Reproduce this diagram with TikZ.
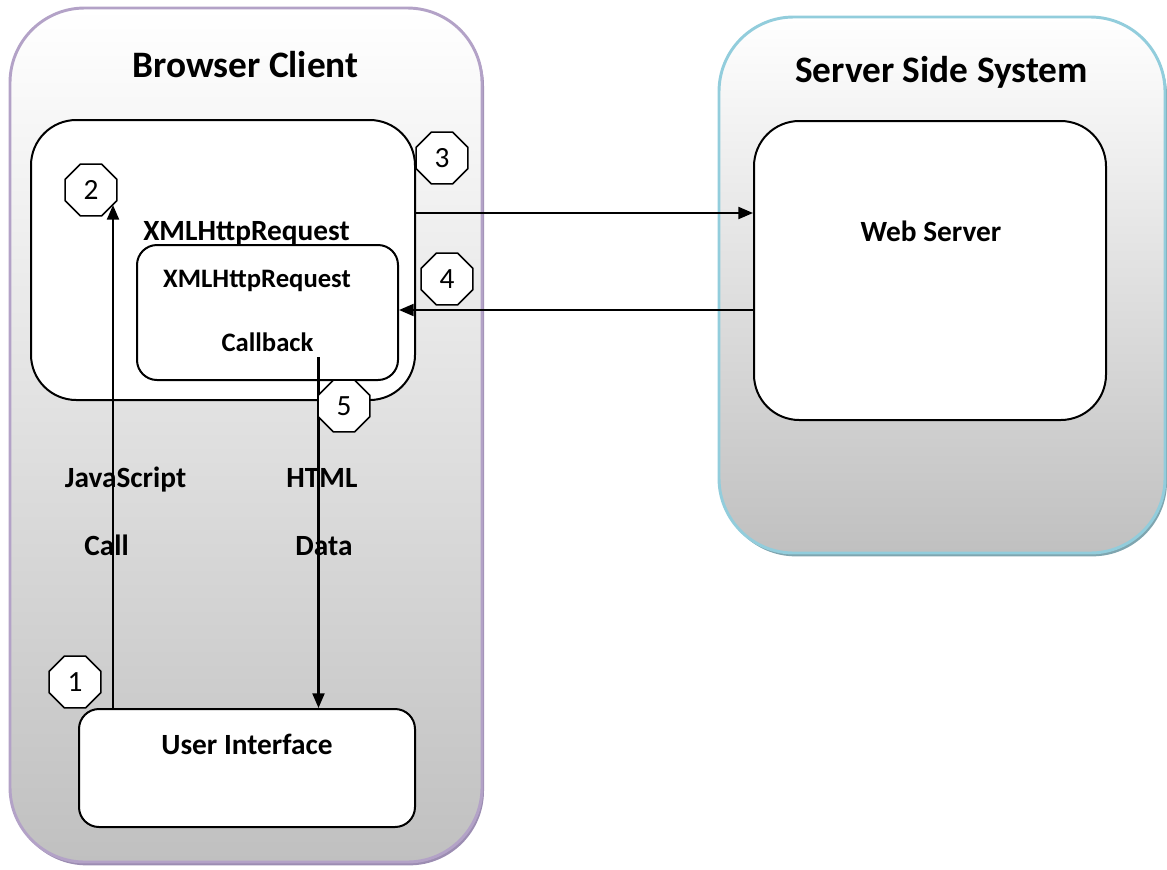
\documentclass[tikz,border=0pt]{standalone}
\usepackage{fontspec}
\setmainfont{Carlito}
\usetikzlibrary{shapes.geometric, arrows.meta, shadows}

\definecolor{clientline}{HTML}{B3A2C7}
\definecolor{clientshadow}{HTML}{9C8DB2}
\definecolor{serverline}{HTML}{92CDDC}
\definecolor{servershadow}{HTML}{7FA5AF}
\definecolor{boxgray}{HTML}{C0C0C0}

\tikzstyle{system} = [
    rectangle,
    rounded corners=56pt,
    line width=2.2pt,
    top color=white,
    bottom color=boxgray
]
\tikzstyle{client} = [
    system,
    draw=clientline,
    minimum width=354pt,
    minimum height=640.5pt,
    drop shadow={shadow xshift=1.5pt, shadow yshift=-2.5pt, fill=clientshadow, opacity=1}
]
\tikzstyle{server} = [
    system,
    draw=serverline,
    minimum width=334.5pt,
    minimum height=402pt,
    drop shadow={shadow xshift=1.5pt, shadow yshift=-2.5pt, fill=servershadow, opacity=1}
]
\tikzstyle{process} = [
    rectangle,
    rounded corners=34pt,
    line width=1.5pt,
    draw=black,
    fill=white
]
\tikzstyle{smallprocess} = [
    process,
    rounded corners=15pt
]
\tikzstyle{badge} = [
    regular polygon,
    regular polygon sides=8,
    minimum size=42pt,
    inner sep=0pt,
    line width=1.2pt,
    draw=black,
    fill=white,
    font=\fontsize{22}{26}\selectfont
]
\tikzstyle{title} = [anchor=base, font=\fontsize{28}{34}\selectfont\bfseries]
\tikzstyle{label} = [anchor=base, font=\fontsize{22}{26}\selectfont\bfseries]
\tikzstyle{smalllabel} = [anchor=base, font=\fontsize{20}{24}\selectfont\bfseries]
\tikzstyle{arrow} = [line width=1.6pt, -{Triangle[length=11pt, width=9pt]}]

\begin{document}
\begin{tikzpicture}[x=0.75pt, y=-0.75pt]

\useasboundingbox (0,0) rectangle (1167,869);

% the two systems
\node (browser) [client] at (246,435) {};
\node (server) [server] at (942,285) {};
\node (browsertitle) [title] at (245.5,77) {Browser Client};
\node (servertitle) [title] at (941.5,82) {Server Side System};

% browser side
\node (xhr) [process, minimum width=288pt, minimum height=210pt] at (223,260) {};
\node (xhrlabel) [label] at (246.5,240) {XMLHttpRequest};
\node (xhrcb) [smallprocess, minimum width=195.75pt, minimum height=101.25pt] at (267.5,312.5) {};
\node (xhrcblabel) [smalllabel] at (257,287) {XMLHttpRequest};
\node (callback) [smalllabel] at (267.5,351) {Callback};
\node (ui) [smallprocess, minimum width=252pt, minimum height=88.5pt] at (247,768) {};
\node (uilabel) [label] at (247,754) {User Interface};

% server side
\node (webserver) [process, minimum width=264pt, minimum height=224.25pt] at (930,270.5) {};
\node (webserverlabel) [label] at (931,241) {Web Server};

% labels on the calls
\node (jslabel) [label] at (125.5,487) {JavaScript};
\node (calllabel) [label] at (106.5,555) {Call};
\node (htmllabel) [label] at (322,487) {HTML};
\node (datalabel) [label] at (324,555) {Data};

% connectors
\coordinate (calltop) at (113,205);
\coordinate (cbfoot) at (318.5,357);
\coordinate (reqy) at (0,213);
\coordinate (respy) at (0,310);

\draw [arrow] (calltop |- ui.north) -- (calltop);
\draw [arrow] (cbfoot) -- (cbfoot |- ui.north);
\draw [arrow] (xhr.east |- reqy) -- (webserver.west |- reqy);
\draw [arrow] (webserver.west |- respy) -- (xhrcb.east |- respy);

% numbered steps
\node (badge1) [badge] at (75,682) {1};
\node (badge2) [badge] at (91,190) {2};
\node (badge3) [badge] at (442,158) {3};
\node (badge4) [badge] at (447,279) {4};
\node (badge5) [badge] at (344,406) {5};

\end{tikzpicture}
\end{document}
